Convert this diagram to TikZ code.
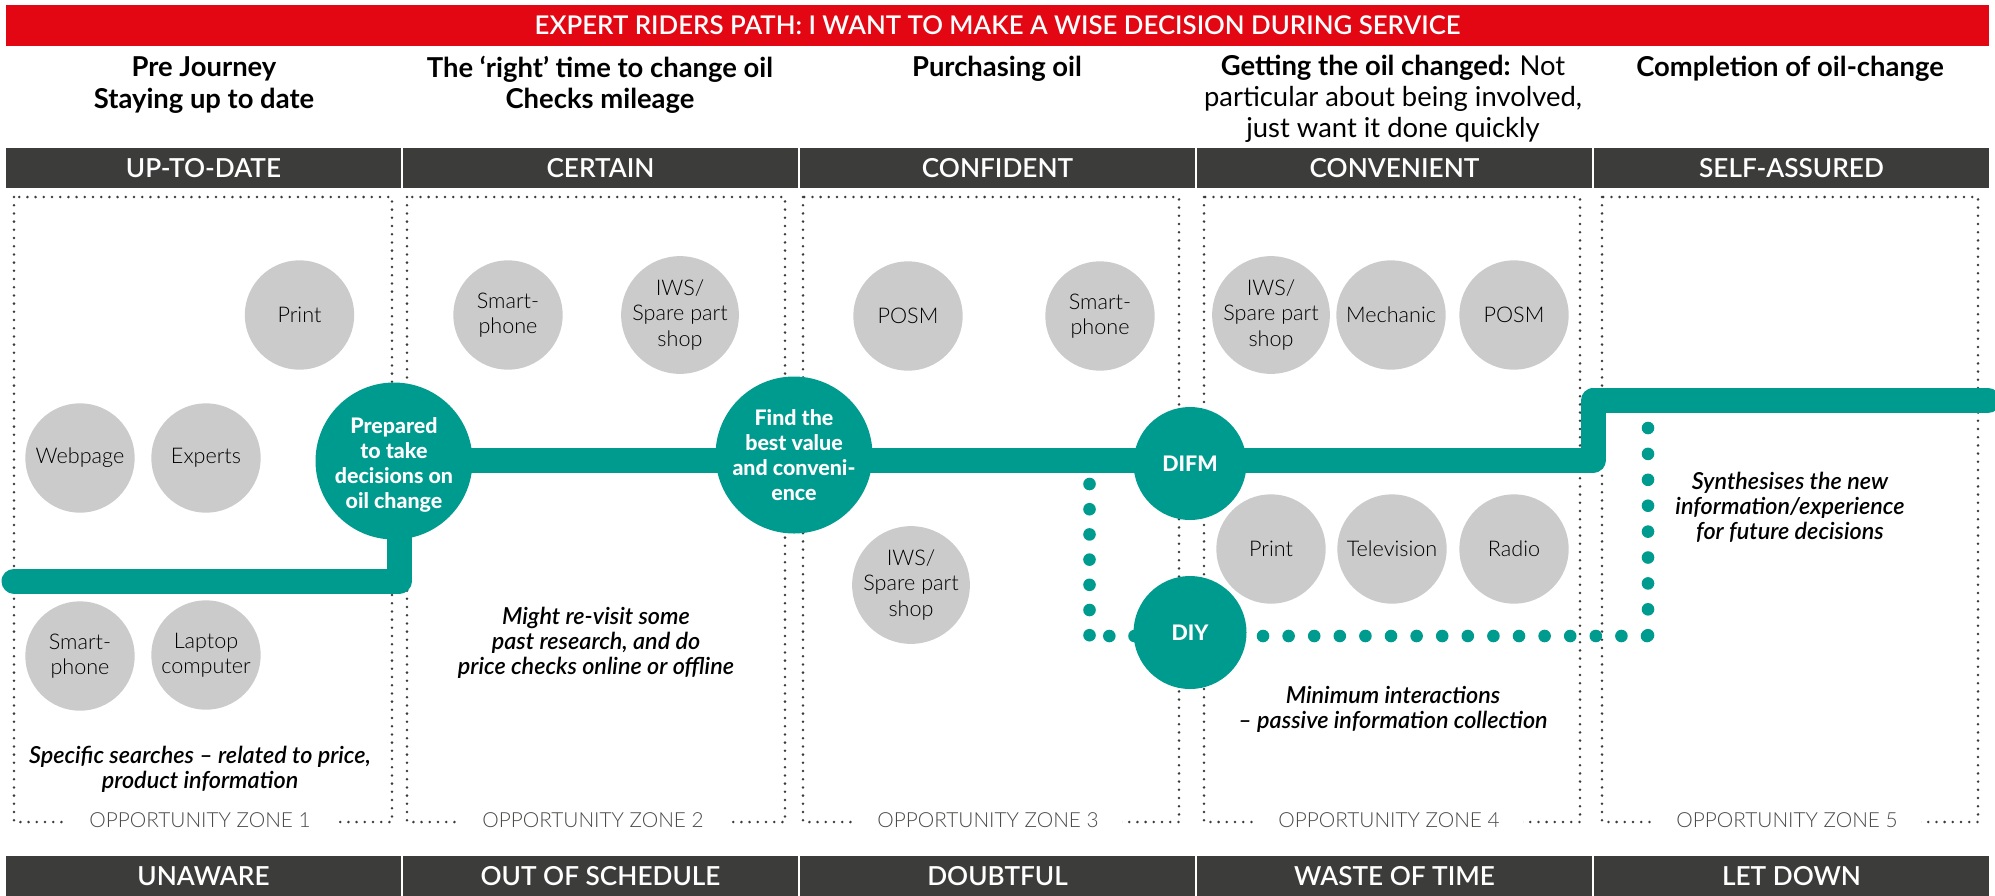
\documentclass[tikz,border=0pt]{standalone}
\usepackage{fontspec}
\setmainfont{Lato}
\newfontfamily\thinfont{Lato}[UprightFont=* Light,ItalicFont=* Light Italic]
\newfontfamily\midfont{Lato}[UprightFont=* Semibold,ItalicFont=* Semibold Italic]
\newfontfamily\heavyfont{Lato}[UprightFont=* Heavy]
\usetikzlibrary{backgrounds}
\definecolor{ridered}{HTML}{E30613}
\definecolor{barsgrey}{HTML}{3C3C3B}
\definecolor{pathteal}{HTML}{009B8F}
\definecolor{touchgrey}{HTML}{CBCBCB}
\definecolor{zonegrey}{HTML}{4A4A49}
\tikzset{
  banner/.style={fill=ridered,text=white,minimum width=991.5pt,minimum height=20.5pt,inner sep=0pt,font=\fontsize{12.9}{15}\selectfont\midfont},
  barbox/.style={fill=barsgrey,text=white,minimum width=197.5pt,minimum height=20pt,inner sep=0pt,font=\fontsize{13.1}{15}\selectfont\midfont},
  stagetext/.style={align=center,text=black,inner sep=0pt,font=\fontsize{13.7}{15.6}\selectfont\bfseries},
  touchpoint/.style={circle,fill=touchgrey,minimum size=54.7pt,inner sep=0pt,align=center,font=\fontsize{10.8}{12.6}\selectfont\thinfont},
  bigstop/.style={circle,fill=pathteal,text=white,minimum size=78.5pt,inner sep=0pt,align=center,font=\fontsize{10.7}{12.4}\selectfont\heavyfont},
  smallstop/.style={circle,fill=pathteal,text=white,minimum size=56.5pt,inner sep=0pt,align=center,font=\fontsize{10.7}{12.4}\selectfont\heavyfont},
  notetext/.style={align=center,text=black,inner sep=0pt,font=\fontsize{11.7}{12.5}\selectfont\midfont\itshape},
  zonelabel/.style={fill=white,text=zonegrey,inner xsep=11.5pt,inner ysep=1pt,font=\fontsize{10.4}{12}\selectfont\thinfont},
  zonebox/.style={draw=barsgrey,line width=1.4pt,line cap=round,dash pattern=on 0pt off 4.1pt},
  mainpath/.style={draw=pathteal,line width=12.5pt,line cap=round,line join=round},
  sidedots/.style={draw=pathteal,line width=6.3pt,line cap=round,dash pattern=on 0pt off 12.6pt}
}
\begin{document}
\begin{tikzpicture}[x=.5pt,y=-.5pt]
  \useasboundingbox (0,0) rectangle (1995,895);

  \node (title) [banner] at (997.5,25.5) {EXPERT RIDERS PATH: I WANT TO MAKE A WISE DECISION DURING SERVICE};

  \node (stagea) [stagetext] at (204,85) {Pre Journey\\Staying up to date};
  \node (stageb) [stagetext] at (600,85) {The ‘right’ time to change oil\\Checks mileage};
  \node (stagec) [stagetext] at (997,69) {Purchasing oil};
  \node (staged) [stagetext] at (1393,99) {Getting the oil changed: {\mdseries Not}\\{\mdseries particular about being involved,}\\{\mdseries just want it done quickly}};
  \node (stagee) [stagetext] at (1790,69) {Completion of oil-change};

  \node (topa) [barbox] at (203.5,168) {\raisebox{-.5pt}{UP-TO-DATE}};
  \node (topb) [barbox] at (600.5,168) {\raisebox{-.5pt}{CERTAIN}};
  \node (topc) [barbox] at (997.5,168) {\raisebox{-.5pt}{CONFIDENT}};
  \node (topd) [barbox] at (1394.5,168) {\raisebox{-.5pt}{CONVENIENT}};
  \node (tope) [barbox] at (1791.5,168) {\raisebox{-.5pt}{SELF-ASSURED}};

  \node (lowa) [barbox] at (203.5,876) {UNAWARE};
  \node (lowb) [barbox] at (600.5,876) {OUT OF SCHEDULE};
  \node (lowc) [barbox] at (997.5,876) {DOUBTFUL};
  \node (lowd) [barbox] at (1394.5,876) {WASTE OF TIME};
  \node (lowe) [barbox] at (1791.5,876) {LET DOWN};

  \node (zonea) [zonelabel] at (200,820) {OPPORTUNITY ZONE 1};
  \node (zoneb) [zonelabel] at (593,820) {OPPORTUNITY ZONE 2};
  \node (zonec) [zonelabel] at (988,820) {OPPORTUNITY ZONE 3};
  \node (zoned) [zonelabel] at (1389,820) {OPPORTUNITY ZONE 4};
  \node (zonee) [zonelabel] at (1787,820) {OPPORTUNITY ZONE 5};

  \node (print) [touchpoint] at (299.5,315) {Print};
  \node (webpage) [touchpoint] at (80,458) {Webpage};
  \node (experts) [touchpoint] at (206,458) {Experts};
  \node (phonea) [touchpoint] at (80,656) {Smart-\\phone};
  \node (laptop) [touchpoint] at (206,655) {Laptop\\computer};

  \node (phoneb) [touchpoint] at (508,315) {Smart-\\phone};
  \node (shopb) [touchpoint] at (680,315) {IWS/\\Spare part\\shop};

  \node (posmc) [touchpoint] at (908,316) {POSM};
  \node (phonec) [touchpoint] at (1100,316) {Smart-\\phone};
  \node (shopc) [touchpoint] at (911,585) {IWS/\\Spare part\\shop};

  \node (shopd) [touchpoint] at (1271,315) {IWS/\\Spare part\\shop};
  \node (mechanic) [touchpoint] at (1391,315) {Mechanic};
  \node (posmd) [touchpoint] at (1514,315) {POSM};
  \node (printd) [touchpoint] at (1271,549) {Print};
  \node (tv) [touchpoint] at (1392,549) {Television};
  \node (radio) [touchpoint] at (1514,549) {Radio};

  \node (prepared) [bigstop] at (394,461) {\rule{0pt}{12pt}Prepared\\to take\\decisions on\\oil change};
  \node (findvalue) [bigstop] at (794,455) {Find the\\best value\\and conveni-\\ence};
  \node (difm) [smallstop] at (1190,463.5) {DIFM};
  \node (diy) [smallstop] at (1190,632.5) {DIY};

  \node (notea) [notetext] at (200,769.5) {Specific searches – related to price,\\product information};
  \node (noteb) [notetext] at (596,643) {Might re-visit some\\past research, and do\\price checks online or offline};
  \node (notec) [notetext] at (1393,709.5) {Minimum interactions\\– passive information collection};
  \node (noted) [notetext] at (1790,507.5) {Synthesises the new\\information/experience\\for future decisions};

  \coordinate (pathstart) at (14,581);
  \coordinate (lowbend) at (399,581);
  \coordinate (midline) at (0,460);
  \coordinate (highbend) at (1593,460);
  \coordinate (highline) at (1593,400.5);
  \coordinate (pathend) at (1988,400.5);

  \coordinate (dotstart) at (1089.5,484);
  \coordinate (dotbend) at (1089.5,636);
  \coordinate (diyleft) at (1134.5,636);
  \coordinate (diyright) at (1263,636);
  \coordinate (dotjoin) at (1648,636);
  \coordinate (dotend) at (1648,428);

  \begin{scope}[on background layer]
    \draw[zonebox] (14,197) rectangle (392,822);
    \draw[zonebox] (407,197) rectangle (785,822);
    \draw[zonebox] (803,197) rectangle (1179,822);
    \draw[zonebox] (1204,197) rectangle (1580,822);
    \draw[zonebox] (1602,197) rectangle (1978,822);

    \draw[mainpath] (pathstart) -- (lowbend) -- (lowbend |- prepared);
    \draw[mainpath] (prepared |- midline) -- (highbend) -- (highline) -- (pathend);

    \draw[sidedots] (dotstart) -- (dotbend);
    \draw[sidedots] (diyleft) -- (dotbend);
    \draw[sidedots,dash pattern=on 0pt off 12.8pt] (diyright) -- (dotjoin);
    \draw[sidedots,dash pattern=on 0pt off 12.95pt] (dotend) -- (dotjoin);
  \end{scope}
\end{tikzpicture}
\end{document}
